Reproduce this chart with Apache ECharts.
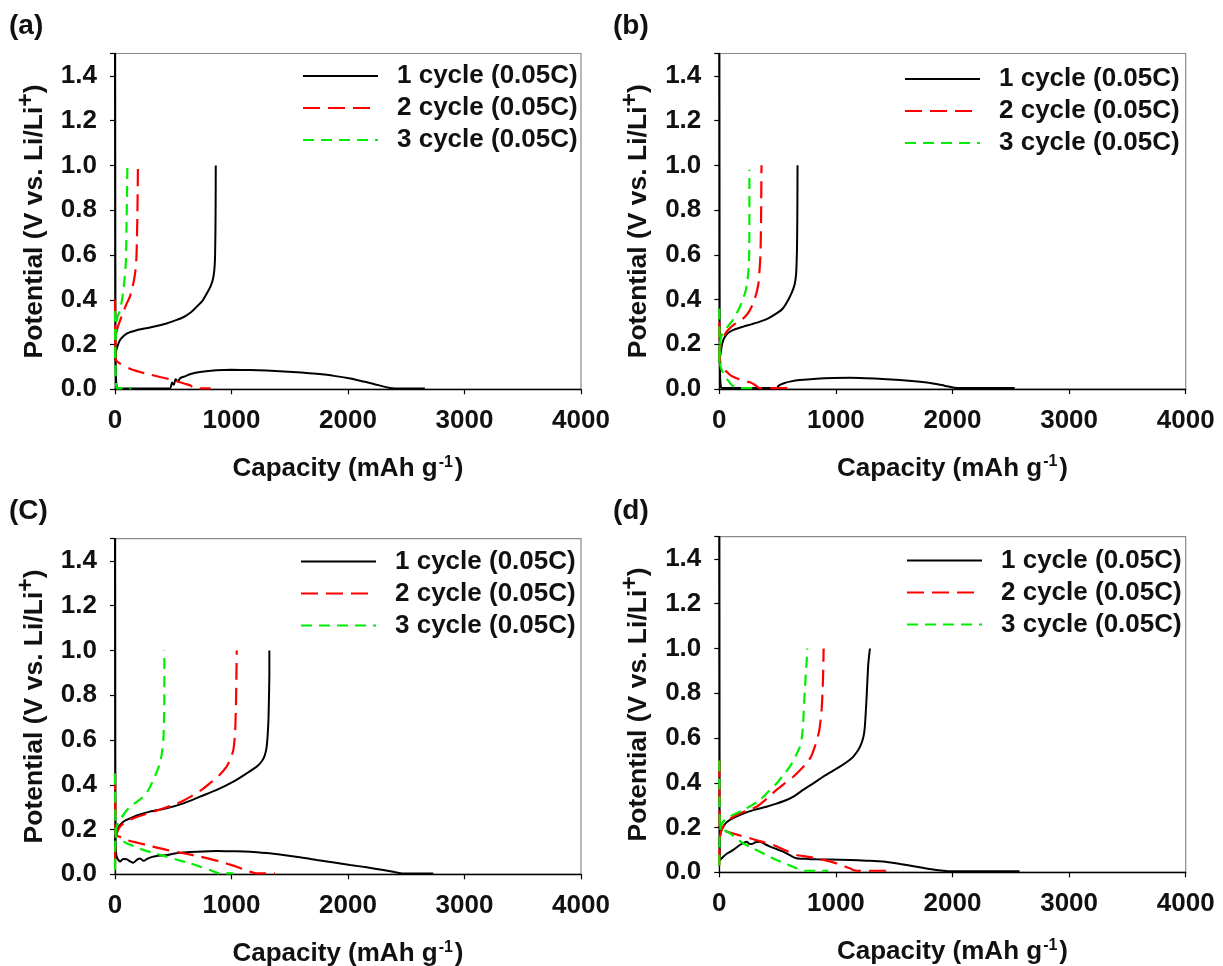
<!DOCTYPE html>
<html><head><meta charset="utf-8">
<script src="https://cdn.jsdelivr.net/npm/echarts@6/dist/echarts.min.js"></script>
<style>html,body{margin:0;padding:0;background:#fff}#chart{width:1223px;height:966px}</style>
</head><body><div id="chart"></div>
<script>
// ---------- data ----------
const seriesNames = ['1 cycle (0.05C)', '2 cycle (0.05C)', '3 cycle (0.05C)'];
const panelLabels = ['(a)', '(b)', '(C)', '(d)'];
const xTickValues = [0, 1000, 2000, 3000, 4000];
const yTickValues = [0.0, 0.2, 0.4, 0.6, 0.8, 1.0, 1.2, 1.4];

// panel (a)
const a_c1_dis = [[0,1.5],[2,0.6],[4,0.2],[8,0.06],[15,0.01],[30,0.004],[470,0.004],[490,0.03],[505,0.02],[520,0.045],[540,0.035],[560,0.05],[600,0.058],[650,0.068],[730,0.077],[870,0.085],[1000,0.087],[1160,0.086],[1300,0.084],[1450,0.08],[1600,0.075],[1730,0.069],[1880,0.06],[2020,0.048],[2130,0.035],[2220,0.024],[2300,0.013],[2360,0.006],[2400,0.004],[2660,0.004]];
const a_c1_chg = [[0,0.13],[5,0.16],[14,0.18],[30,0.205],[50,0.225],[100,0.249],[186,0.264],[300,0.276],[443,0.294],[530,0.31],[590,0.323],[650,0.343],[700,0.368],[750,0.395],[790,0.43],[820,0.46],[840,0.49],[852,0.53],[858,0.58],[862,0.7],[864,0.85],[865,1.0]];
const a_c2_dis = [[0,0.4],[2,0.2],[5,0.135],[43,0.115],[129,0.092],[215,0.077],[300,0.066],[386,0.055],[460,0.046],[529,0.036],[600,0.025],[644,0.018],[670,0.008],[690,0.004],[820,0.004]];
const a_c2_chg = [[0,0.14],[3,0.2],[10,0.25],[29,0.286],[60,0.33],[100,0.383],[125,0.41],[143,0.442],[160,0.48],[172,0.517],[182,0.57],[186,0.621],[192,0.77],[195,0.9],[197,1.0]];
const a_c3_dis = [[0,0.35],[2,0.2],[4,0.1],[7,0.05],[12,0.01],[20,0.004],[140,0.004]];
const a_c3_chg = [[0,0.14],[3,0.22],[8,0.28],[20,0.32],[43,0.353],[60,0.4],[72,0.443],[85,0.51],[94,0.577],[100,0.77],[104,0.9],[106,1.0]];

// panel (b)
const b_c1_dis = [[0,1.5],[2,0.5],[4,0.15],[8,0.04],[15,0.008],[30,0.004],[490,0.004],[505,0.012],[520,0.018],[560,0.027],[605,0.033],[691,0.04],[834,0.046],[976,0.049],[1120,0.05],[1262,0.048],[1400,0.045],[1547,0.04],[1700,0.033],[1833,0.025],[1930,0.015],[2004,0.007],[2060,0.004],[2533,0.004]];
const b_c1_chg = [[0,0.12],[5,0.14],[11,0.16],[20,0.19],[34,0.219],[60,0.242],[91,0.256],[140,0.268],[206,0.279],[280,0.29],[348,0.301],[420,0.316],[491,0.338],[545,0.36],[591,0.398],[625,0.435],[648,0.472],[658,0.51],[662,0.547],[666,0.62],[668,0.696],[670,0.85],[671,1.0]];
const b_c2_dis = [[0,0.3],[2,0.2],[5,0.14],[11,0.115],[30,0.095],[63,0.077],[100,0.06],[148,0.048],[200,0.038],[263,0.03],[300,0.02],[334,0.007],[348,0.004],[650,0.004]];
const b_c2_chg = [[0,0.13],[5,0.17],[20,0.21],[40,0.235],[63,0.256],[90,0.272],[120,0.286],[160,0.3],[206,0.316],[245,0.338],[277,0.368],[305,0.405],[325,0.443],[338,0.48],[343,0.517],[350,0.57],[354,0.621],[358,0.75],[360,0.88],[362,1.0]];
const b_c3_dis = [[0,0.36],[2,0.2],[5,0.14],[11,0.1],[30,0.075],[49,0.055],[80,0.035],[106,0.018],[130,0.01],[148,0.006],[160,0.004],[335,0.004]];
const b_c3_chg = [[0,0.12],[3,0.18],[10,0.22],[25,0.245],[49,0.264],[80,0.284],[106,0.301],[140,0.33],[177,0.368],[205,0.405],[228,0.443],[240,0.48],[248,0.517],[254,0.57],[257,0.621],[258,0.8],[258,0.98]];

// panel (c)
const c_c1_dis = [[0,1.5],[2,0.5],[4,0.2],[6,0.124],[14,0.079],[43,0.057],[70,0.068],[100,0.067],[130,0.058],[157,0.052],[190,0.066],[215,0.071],[245,0.06],[280,0.07],[320,0.078],[358,0.082],[400,0.084],[443,0.086],[500,0.092],[587,0.097],[700,0.101],[873,0.104],[1000,0.103],[1159,0.101],[1300,0.095],[1445,0.086],[1600,0.075],[1731,0.064],[1880,0.053],[2017,0.042],[2160,0.031],[2303,0.019],[2400,0.01],[2475,0.004],[2732,0.004]];
const c_c1_chg = [[0,0.15],[9,0.183],[20,0.2],[43,0.22],[80,0.238],[129,0.25],[200,0.265],[300,0.28],[443,0.295],[587,0.317],[730,0.347],[873,0.377],[1016,0.414],[1130,0.451],[1216,0.481],[1260,0.505],[1285,0.53],[1302,0.57],[1316,0.675],[1322,0.8],[1325,0.9],[1325,1.0]];
const c_c2_dis = [[0,0.45],[2,0.3],[5,0.19],[9,0.176],[50,0.165],[100,0.153],[200,0.14],[300,0.127],[443,0.109],[587,0.094],[730,0.079],[820,0.068],[901,0.057],[970,0.046],[1044,0.034],[1100,0.022],[1159,0.012],[1216,0.004],[1373,0.004]];
const c_c2_chg = [[0,0.05],[3,0.15],[9,0.168],[20,0.19],[43,0.213],[90,0.235],[157,0.25],[240,0.265],[329,0.28],[420,0.295],[501,0.31],[590,0.33],[672,0.354],[745,0.378],[815,0.407],[890,0.44],[958,0.481],[990,0.515],[1016,0.556],[1030,0.63],[1038,0.75],[1042,0.88],[1045,1.0]];
const c_c3_dis = [[0,0.45],[2,0.3],[5,0.2],[9,0.168],[50,0.155],[100,0.139],[170,0.124],[243,0.109],[340,0.094],[443,0.079],[540,0.064],[644,0.049],[730,0.034],[815,0.019],[860,0.01],[901,0.004],[1016,0.004]];
const c_c3_chg = [[0,0.02],[3,0.15],[9,0.198],[20,0.22],[43,0.243],[85,0.275],[129,0.302],[190,0.325],[243,0.347],[290,0.38],[329,0.421],[360,0.46],[386,0.496],[405,0.55],[415,0.6],[420,0.68],[423,0.749],[424,1.0]];

// panel (d)
const d_c1_dis = [[0,1.5],[2,0.3],[4,0.08],[6,0.055],[20,0.062],[34,0.07],[70,0.085],[120,0.1],[150,0.112],[177,0.122],[205,0.13],[234,0.137],[255,0.128],[277,0.126],[310,0.134],[348,0.137],[390,0.126],[434,0.115],[490,0.104],[548,0.092],[600,0.078],[662,0.0625],[750,0.06],[834,0.058],[950,0.057],[1119,0.055],[1260,0.052],[1405,0.048],[1550,0.037],[1690,0.025],[1800,0.015],[1919,0.007],[1960,0.005],[2575,0.005]];
const d_c1_chg = [[0,0.12],[6,0.159],[15,0.185],[34,0.204],[60,0.222],[91,0.234],[140,0.248],[206,0.263],[300,0.279],[405,0.293],[490,0.307],[577,0.323],[650,0.343],[719,0.368],[800,0.395],[891,0.427],[960,0.449],[1034,0.472],[1100,0.495],[1148,0.516],[1190,0.545],[1219,0.576],[1238,0.61],[1248,0.65],[1262,0.769],[1276,0.918],[1283,0.96],[1292,1.0]];
const d_c2_dis = [[0,0.5],[2,0.3],[6,0.19],[63,0.182],[160,0.167],[263,0.152],[363,0.137],[463,0.122],[560,0.1],[662,0.077],[750,0.07],[834,0.0625],[920,0.052],[1005,0.04],[1060,0.029],[1119,0.018],[1150,0.01],[1176,0.007],[1433,0.007]];
const d_c2_chg = [[0,0.03],[3,0.15],[11,0.174],[30,0.2],[63,0.226],[110,0.245],[177,0.263],[250,0.278],[320,0.293],[405,0.328],[491,0.368],[560,0.397],[634,0.427],[690,0.455],[748,0.487],[790,0.52],[819,0.561],[845,0.605],[862,0.65],[878,0.73],[886,0.814],[891,0.9],[895,1.0]];
const d_c3_dis = [[0,0.5],[2,0.3],[6,0.204],[40,0.19],[91,0.174],[150,0.15],[206,0.129],[280,0.11],[348,0.092],[420,0.073],[491,0.055],[580,0.036],[662,0.018],[700,0.01],[719,0.007],[934,0.007]];
const d_c3_chg = [[0,0.03],[3,0.17],[6,0.19],[25,0.22],[63,0.241],[130,0.26],[206,0.278],[280,0.3],[348,0.323],[420,0.36],[491,0.397],[550,0.435],[605,0.472],[650,0.515],[691,0.561],[710,0.61],[719,0.665],[730,0.78],[742,0.888],[750,0.95],[754,1.0]];

// ---------- layout / style ----------
const FONT = "'Liberation Sans', Arial, sans-serif";
const TXT = '#111';
const FS = 26;
const panels = [
  {grid:{left:115, top:53.5, width:466, height:335.8}, legend:{left:302, top:63}, title:{left:9, top:12},
   data:[[a_c1_dis,a_c1_chg],[a_c2_dis,a_c2_chg],[a_c3_dis,a_c3_chg]]},
  {grid:{left:719.3, top:53.5, width:466.4, height:335.5}, legend:{left:904, top:66}, title:{left:613, top:12},
   data:[[b_c1_dis,b_c1_chg],[b_c2_dis,b_c2_chg],[b_c3_dis,b_c3_chg]]},
  {grid:{left:115, top:538.6, width:466, height:335.7}, legend:{left:300, top:548.5}, title:{left:9, top:497},
   data:[[c_c1_dis,c_c1_chg],[c_c2_dis,c_c2_chg],[c_c3_dis,c_c3_chg]]},
  {grid:{left:719.3, top:536.6, width:466.4, height:335.7}, legend:{left:906, top:547.5}, title:{left:613, top:497},
   data:[[d_c1_dis,d_c1_chg],[d_c2_dis,d_c2_chg],[d_c3_dis,d_c3_chg]]}
];
const lineStyles = [
  {color:'#000000', width:2, type:'solid'},
  {color:'#ff0000', width:2.2, type:[17,8]},
  {color:'#00ee00', width:2.2, type:[11,7]}
];

const option = {
  backgroundColor:'#fff',
  animation:false,
  title:[], grid:[], xAxis:[], yAxis:[], legend:[], series:[]
};

panels.forEach((p, i) => {
  option.title.push({text: panelLabels[i], left:p.title.left, top:p.title.top, padding:0,
    textStyle:{fontFamily:FONT, fontWeight:'bold', fontSize:28, color:TXT}});
  option.grid.push(Object.assign({show:true, borderColor:'#8a8a8a', borderWidth:1.2, backgroundColor:'transparent',
    containLabel:false, outerBoundsMode:'none'}, p.grid));
  option.xAxis.push({type:'value', gridIndex:i, min:xTickValues[0], max:xTickValues[xTickValues.length-1], interval:1000,
    axisLine:{show:true, onZero:false, lineStyle:{color:'#000', width:1.3}},
    axisTick:{show:true, inside:false, length:5, lineStyle:{color:'#000', width:1.2}},
    splitLine:{show:false},
    axisLabel:{margin:19, fontFamily:FONT, fontWeight:'bold', fontSize:FS, color:TXT,
      formatter:v => xTickValues.includes(v) ? String(v) : ''},
    name:'Capacity (mAh g{sup|-1})', nameLocation:'middle', nameGap:65,
    nameTextStyle:{fontFamily:FONT, fontWeight:'bold', fontSize:FS, color:TXT,
      rich:{sup:{fontFamily:FONT, fontWeight:'bold', fontSize:16, color:TXT, padding:[0,2,14,1]}}}
  });
  option.yAxis.push({type:'value', gridIndex:i, min:0, max:1.5, interval:0.2,
    axisLine:{show:true, onZero:false, lineStyle:{color:'#000', width:1.3}},
    axisTick:{show:true, inside:false, length:5, lineStyle:{color:'#000', width:1.2}},
    splitLine:{show:false},
    axisLabel:{margin:18, fontFamily:FONT, fontWeight:'bold', fontSize:FS, color:TXT,
      formatter:v => yTickValues.some(t => Math.abs(t - v) < 1e-6) ? v.toFixed(1) : ''},
    name:'Potential (V vs. Li/Li{sup|+})', nameLocation:'middle', nameGap:61, nameRotate:90,
    nameTextStyle:{fontFamily:FONT, fontWeight:'bold', fontSize:26.5, color:TXT,
      rich:{sup:{fontFamily:FONT, fontWeight:'bold', fontSize:23, color:TXT, padding:[0,0,16,0]}}}
  });
  option.legend.push({left:p.legend.left, top:p.legend.top, orient:'vertical', padding:0,
    itemWidth:75, itemHeight:4, itemGap:6, selectedMode:false, data:seriesNames,
    itemStyle:{opacity:0},
    textStyle:{fontFamily:FONT, fontWeight:'bold', fontSize:FS, color:TXT, lineHeight:26, padding:[0,0,0,14]}});
  p.data.forEach((cyc, k) => {
    cyc.forEach(seg => {
      option.series.push({type:'line', name:seriesNames[k], xAxisIndex:i, yAxisIndex:i,
        data:seg, symbol:'none', showSymbol:false, smooth:0.25, clip:true,
        lineStyle:lineStyles[k], itemStyle:{color:lineStyles[k].color}, z:2+k});
    });
  });
});

const chart = echarts.init(document.getElementById('chart'), null, {renderer:'canvas'});
chart.setOption(option);
</script></body></html>
